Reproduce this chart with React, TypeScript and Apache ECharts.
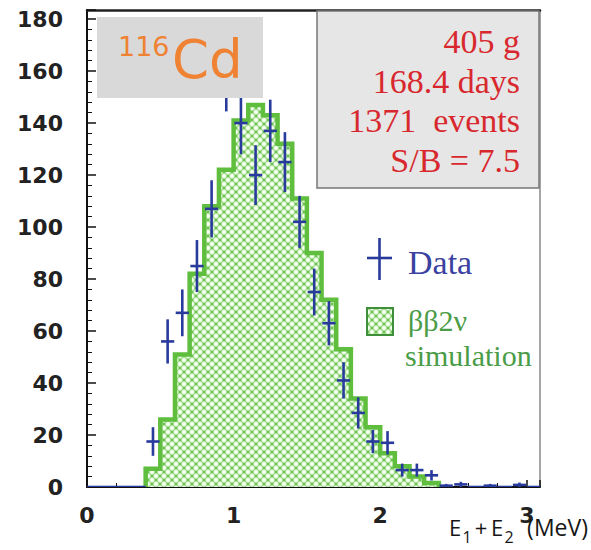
import React, { useEffect, useRef } from "react";
import * as echarts from "echarts";

// ---- data ----
const dataCenters = [0.05, 0.15, 0.25, 0.35, 0.45, 0.55, 0.65, 0.75, 0.85, 0.95, 1.05, 1.15, 1.25, 1.35, 1.45, 1.55, 1.65, 1.75, 1.85, 1.95, 2.05, 2.15, 2.25, 2.35, 2.45, 2.55, 2.65, 2.75, 2.85, 2.95, 3.05];
const dataCounts = [0, 0, 0, 0, 17.5, 56, 67, 85, 107, 157, 140, 120, 137, 125, 102, 75, 63, 41, 28.5, 17.5, 17, 6.5, 6.5, 4.5, 0.5, 1, 0, 0.5, 0, 0.8, 0];
const dataErrors = [0, 0, 0, 0, 5.5, 8.5, 9, 10, 11, 12.5, 12, 11.5, 12, 11.5, 10, 9, 8.5, 7, 6, 4.5, 4.5, 2.5, 2.5, 2, 0.7, 1, 0, 0.7, 0, 0.9, 0];

const simLow = [0.4, 0.5, 0.6, 0.7, 0.8, 0.9, 1.0, 1.1, 1.2, 1.3, 1.4, 1.5, 1.6, 1.7, 1.8, 1.9, 2.0, 2.1, 2.2, 2.3];
const simHigh = [0.5, 0.6, 0.7, 0.8, 0.9, 1.0, 1.1, 1.2, 1.3, 1.4, 1.5, 1.6, 1.7, 1.8, 1.9, 2.0, 2.1, 2.2, 2.3, 2.4];
const simCounts = [7, 26, 51, 82, 108, 122, 141, 147, 143, 132, 111, 90, 72, 53, 34, 23, 13, 8, 4, 1.5];

const xTickLabels = ["0", "1", "2", "3"];
const yTickLabels = ["0", "20", "40", "60", "80", "100", "120", "140", "160", "180"];

const infoLines = ["405 g", "168.4 days", "1371  events", "S/B = 7.5"];

const BLUE = "#283a9c";
const GREEN = "#5fbe3e";
const RED = "#d8282e";
const ORANGE = "#ef8233";

function makePattern() {
  const s = 8;
  const c = document.createElement("canvas");
  c.width = s;
  c.height = s;
  const g = c.getContext("2d")!;
  g.fillStyle = "#6cc152";
  g.fillRect(0, 0, s, s);
  const pts = [[0, 0], [s, 0], [0, s], [s, s], [s / 2, s / 2]];
  for (const [cx, cy] of pts) {
    const grad = g.createRadialGradient(cx, cy, 0, cx, cy, 2.9);
    grad.addColorStop(0, "#ffffff");
    grad.addColorStop(0.55, "#eafbe2");
    grad.addColorStop(1, "#a8de96");
    g.fillStyle = grad;
    g.beginPath();
    g.arc(cx, cy, 2.9, 0, Math.PI * 2);
    g.fill();
  }
  return { image: c, repeat: "repeat", imageWidth: s, imageHeight: s } as any;
}

export default function App() {
  const ref = useRef<HTMLDivElement>(null);
  useEffect(() => {
    if (!ref.current) return;
    const chart = echarts.init(ref.current, undefined, { renderer: "svg" });
    const pattern = makePattern();

    const outline: number[][] = [];
    outline.push([simLow[0], 0]);
    simCounts.forEach((v, i) => {
      outline.push([simLow[i], v]);
      outline.push([simHigh[i], v]);
    });
    outline.push([simHigh[simHigh.length - 1], 0]);

    const axisFont = {
      fontFamily: "DejaVu Sans",
      fontWeight: "bold" as const,
      fontSize: 22,
      color: "#222",
    };

    const titleFont = { fontFamily: "Open Sans", fill: "#161616" };

    const option: any = {
      animation: false,
      backgroundColor: "#ffffff",
      grid: { left: 87, top: 10, right: 51, bottom: 63, outerBoundsMode: "none", containLabel: false },
      xAxis: [
        {
          type: "value",
          min: 0,
          max: 3.09,
          interval: 1,
          axisLine: { show: true, onZero: false, lineStyle: { color: "#111", width: 2 } },
          axisTick: { show: true, inside: true, length: 7, lineStyle: { color: "#111", width: 1.5 } },
          minorTick: { show: true, splitNumber: 5, length: 4, lineStyle: { color: "#111" } },
          axisLabel: {
            ...axisFont,
            margin: 17,
            showMaxLabel: false,
            formatter: (v: number) => xTickLabels[Math.round(v)] ?? "",
          },
          splitLine: { show: false },
        },
        {
          type: "value",
          position: "top",
          min: 0,
          max: 3.09,
          axisLine: { show: true, onZero: false, lineStyle: { color: "#222", width: 2.5 } },
          axisTick: { show: false },
          axisLabel: { show: false },
          splitLine: { show: false },
        },
      ],
      yAxis: [
        {
          type: "value",
          min: 0,
          max: 183.5,
          interval: 20,
          axisLine: { show: true, onZero: false, lineStyle: { color: "#111", width: 2 } },
          axisTick: { show: true, inside: true, length: 9, lineStyle: { color: "#111", width: 1.5 } },
          minorTick: { show: true, splitNumber: 5, length: 5, lineStyle: { color: "#111" } },
          axisLabel: {
            ...axisFont,
            margin: 24,
            showMaxLabel: false,
            formatter: (v: number) => yTickLabels[Math.round(v / 20)] ?? "",
          },
          splitLine: { show: false },
        },
        {
          type: "value",
          position: "right",
          min: 0,
          max: 183.5,
          axisLine: { show: true, onZero: false, lineStyle: { color: "#888", width: 1.5 } },
          axisTick: { show: false },
          axisLabel: { show: false },
          splitLine: { show: false },
        },
      ],
      series: [
        {
          type: "custom",
          name: "sim",
          coordinateSystem: "cartesian2d",
          xAxisIndex: 0,
          yAxisIndex: 0,
          z: 2,
          data: simCounts.map((v, i) => [simLow[i], simHigh[i], v]),
          renderItem: (params: any, api: any) => {
            const lo = api.value(0);
            const hi = api.value(1);
            const v = api.value(2);
            const p0 = api.coord([lo, v]);
            const p1 = api.coord([hi, 0]);
            return {
              type: "rect",
              shape: { x: p0[0], y: p0[1], width: p1[0] - p0[0] + 0.6, height: p1[1] - p0[1] },
              style: { fill: pattern, stroke: null },
            };
          },
        },
        {
          type: "line",
          name: "simOutline",
          xAxisIndex: 0,
          yAxisIndex: 0,
          z: 3,
          data: outline,
          showSymbol: false,
          symbol: "none",
          lineStyle: { color: GREEN, width: 4.5, join: "miter" },
        },
        {
          type: "custom",
          name: "data",
          coordinateSystem: "cartesian2d",
          xAxisIndex: 0,
          yAxisIndex: 0,
          z: 5,
          clip: true,
          data: dataCenters.map((c, i) => [c, dataCounts[i], dataErrors[i]]),
          renderItem: (params: any, api: any) => {
            const x = api.value(0);
            const v = api.value(1);
            const e = api.value(2);
            const half = v === 0 ? 0.05 : 0.045;
            const l = api.coord([x - half, v]);
            const r = api.coord([x + half, v]);
            const children: any[] = [
              { type: "line", shape: { x1: l[0], y1: l[1], x2: r[0], y2: r[1] }, style: { stroke: BLUE, lineWidth: 2.6 } },
            ];
            if (e > 0) {
              const t = api.coord([x, v + e]);
              const b = api.coord([x, Math.max(0, v - e)]);
              children.push({ type: "line", shape: { x1: t[0], y1: t[1], x2: b[0], y2: b[1] }, style: { stroke: BLUE, lineWidth: 2.6 } });
            }
            return { type: "group", children };
          },
        },
      ],
      graphic: [
        { type: "rect", z: 100, shape: { x: 97, y: 17, width: 166, height: 81 }, style: { fill: "#d9d9d9" } },
        {
          type: "text", z: 101, x: 118, y: 46.5,
          style: { text: "116", fontFamily: "DejaVu Sans", fontSize: 27, fill: ORANGE, verticalAlign: "middle", align: "left" },
        },
        {
          type: "text", z: 101, x: 172, y: 59,
          style: { text: "Cd", fontFamily: "DejaVu Sans", fontSize: 53, fill: ORANGE, verticalAlign: "middle", align: "left" },
        },
        { type: "rect", z: 100, shape: { x: 317, y: 11, width: 222, height: 177 }, style: { fill: "#e6e6e6", stroke: "#777", lineWidth: 1.5 } },
        ...infoLines.map((t, i) => ({
          type: "text", z: 101, x: 520, y: 41.5 + i * 39.7,
          style: { text: t, fontFamily: "Liberation Serif", fontSize: 34, fill: RED, verticalAlign: "middle", align: "right" },
        })),
        // legend: Data
        { type: "line", z: 101, shape: { x1: 367, y1: 258, x2: 392, y2: 258 }, style: { stroke: BLUE, lineWidth: 2.6 } },
        { type: "line", z: 101, shape: { x1: 379.5, y1: 238, x2: 379.5, y2: 280 }, style: { stroke: BLUE, lineWidth: 2.6 } },
        {
          type: "text", z: 101, x: 408, y: 262,
          style: { text: "Data", fontFamily: "Liberation Serif", fontSize: 34, fill: "#3a41a0", verticalAlign: "middle", align: "left" },
        },
        // legend: simulation
        { type: "rect", z: 101, shape: { x: 367, y: 308, width: 26, height: 27 }, style: { fill: pattern, stroke: "#3f8f3a", lineWidth: 2 } },
        {
          type: "text", z: 101, x: 408, y: 320,
          style: { text: "ββ2ν", fontFamily: "Liberation Serif", fontSize: 30, fill: "#4a9c47", verticalAlign: "middle", align: "left" },
        },
        {
          type: "text", z: 101, x: 405, y: 355,
          style: { text: "simulation", fontFamily: "Liberation Serif", fontSize: 30, fill: "#4a9c47", verticalAlign: "middle", align: "left" },
        },
        // x-axis title: E1 + E2 (MeV)
        { type: "text", z: 110, x: 449, y: 527, style: { ...titleFont, text: "E", fontSize: 22, verticalAlign: "middle", align: "left" } },
        { type: "text", z: 110, x: 462.5, y: 536.5, style: { ...titleFont, text: "1", fontSize: 16, verticalAlign: "middle", align: "left" } },
        { type: "text", z: 110, x: 481, y: 527, style: { ...titleFont, text: "+", fontSize: 22, verticalAlign: "middle", align: "center" } },
        { type: "text", z: 110, x: 491, y: 527, style: { ...titleFont, text: "E", fontSize: 22, verticalAlign: "middle", align: "left" } },
        { type: "text", z: 110, x: 504.5, y: 536.5, style: { ...titleFont, text: "2", fontSize: 16, verticalAlign: "middle", align: "left" } },
        { type: "text", z: 110, x: 588, y: 527, style: { ...titleFont, text: "(MeV)", fontSize: 23, verticalAlign: "middle", align: "right" } },
      ],
    };
    chart.setOption(option);
    return () => chart.dispose();
  }, []);
  return <div ref={ref} style={{ position: "absolute", left: 0, top: 0, width: 591, height: 550, background: "#fff" }} />;
}
